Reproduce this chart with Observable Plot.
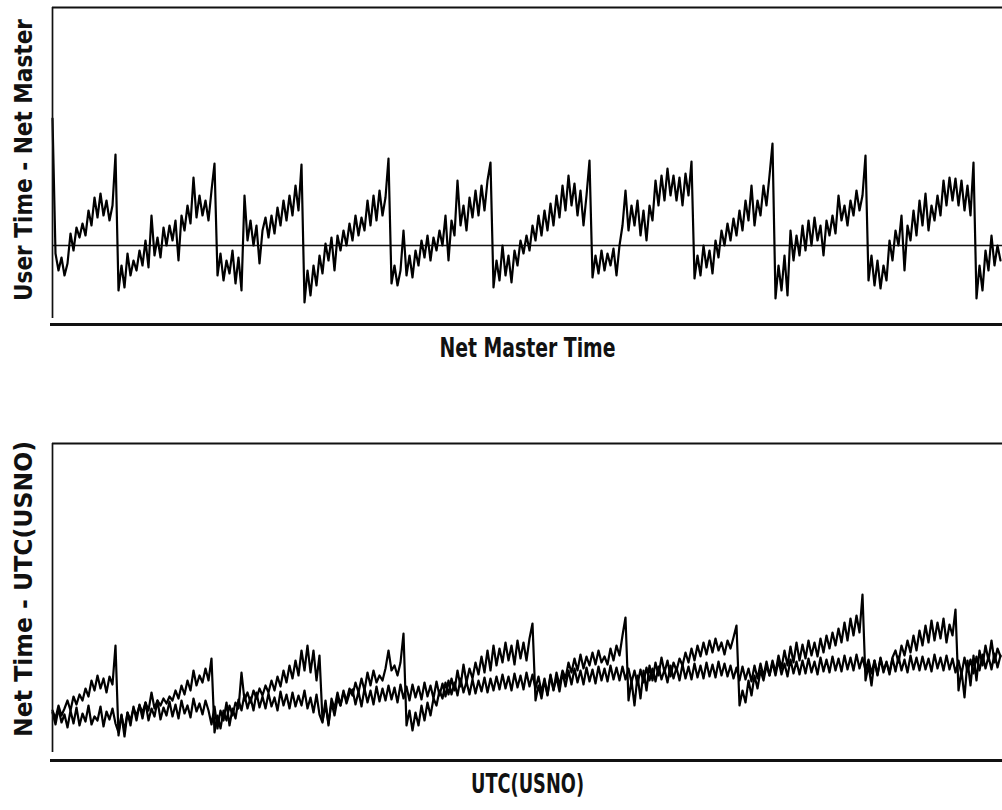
<!DOCTYPE html>
<html><head><meta charset="utf-8">
<script src="https://cdn.jsdelivr.net/npm/d3@7"></script>
<script src="https://cdn.jsdelivr.net/npm/@observablehq/plot@0.6"></script>
<style>
body{margin:0;background:#fff;}
#chart svg{display:block;background:#fff;}
</style></head><body><div id="chart"></div>
<script>
// sampling interval along the time axis (arbitrary units)
const sampleStep = 3;
const xDomain = [0, 950];

// ---- Top panel: User Time - Net Master (arbitrary units, 0 = reference line)
const topLabelX = "Net Master Time";
const topLabelY = "User Time - Net Master";
const topDomain = [-79, 238];
const userMinusNet = [
  127, -8, -25, -12, -30, -18, 12, -5, 18, 8,
  22, 10, 35, 20, 48, 28, 52, 30, 45, 25,
  40, 91, -45, -20, -42, -8, -30, -15, -25, -5,
  -20, 5, -22, 30, -10, 8, -12, 18, 0, 20,
  5, 25, -15, 30, 15, 40, 22, 68, 28, 50,
  30, 45, 25, 55, 82, -30, -8, -35, -15, -28,
  -5, -38, -12, -45, 50, 5, 25, 0, 20, -18,
  15, 28, 8, 30, 12, 38, 20, 45, 25, 50,
  30, 60, 35, 81, -57, -25, -50, -20, -40, -10,
  -28, 2, -15, 8, -25, 10, -5, 15, 0, 22,
  5, 30, 10, 28, 15, 45, 20, 50, 25, 55,
  30, 48, 87, -38, -20, -40, -25, 15, -30, -10,
  -32, -5, -20, 5, -12, 10, -15, 8, -5, 15,
  0, 30, -15, 25, 10, 65, 20, 40, 15, 48,
  28, 55, 30, 60, 35, 65, 83, -42, -15, -35,
  0, -30, -10, -37, -5, -20, 5, -8, 10, -5,
  20, 5, 30, 10, 35, 15, 42, 20, 50, 28,
  60, 35, 70, 40, 62, 30, 55, 20, 50, 85,
  -32, -10, -28, -5, -25, -8, -20, -3, -30, 0,
  20, 55, 15, 40, 20, 45, 10, 35, 5, 40,
  25, 65, 40, 70, 45, 77, 50, 70, 45, 68,
  40, 72, 50, 84, -33, -10, -30, 0, -22, -5,
  -28, 5, -12, 15, 0, 22, 5, 27, 10, 35,
  15, 45, 25, 60, 20, 45, 30, 60, 40, 70,
  102, -53, -20, -45, -10, -50, 15, -15, 10, -10,
  20, -5, 25, 0, 28, 5, 20, -10, 25, 10,
  30, 12, 50, 25, 40, 20, 45, 30, 55, 35,
  50, 90, -35, -10, -40, -15, -43, -20, -35, 5,
  -15, 15, 0, 30, -25, 20, 5, 35, 10, 45,
  20, 52, 15, 40, 25, 50, 30, 65, 40, 68,
  45, 67, 40, 65, 35, 60, 30, 83, -53, -20,
  -45, -5, -25, 10, -20, 0, -15
];

// ---- Bottom panel: Net Time - UTC(USNO) and User Time - UTC(USNO)
const bottomLabelX = "UTC(USNO)";
const bottomLabelY = "Net Time - UTC(USNO)";
const bottomDomain = [0, 317];
const netMinusUtc = [
  48, 36, 52, 38, 46, 33, 50, 37, 53, 35,
  47, 39, 55, 36, 44, 40, 54, 34, 49, 41,
  52, 37, 28, 46, 24, 48, 35, 54, 40, 56,
  42, 58, 40, 52, 44, 60, 41, 53, 45, 59,
  44, 56, 42, 60, 47, 55, 43, 62, 49, 57,
  46, 60, 50, 36, 54, 32, 50, 40, 58, 35,
  52, 42, 61, 50, 66, 52, 63, 50, 68, 53,
  64, 52, 67, 54, 63, 50, 69, 55, 66, 52,
  68, 54, 65, 55, 70, 52, 63, 48, 66, 46,
  38, 60, 35, 62, 52, 68, 55, 70, 57, 67,
  71, 56, 69, 54, 72, 58, 70, 56, 74, 59,
  72, 60, 75, 61, 73, 58, 76, 62, 74, 60,
  76, 63, 74, 61, 78, 64, 75, 62, 79, 65,
  77, 64, 80, 66, 78, 65, 82, 68, 79, 66,
  81, 67, 80, 69, 83, 68, 82, 70, 84, 71,
  86, 72, 84, 70, 87, 73, 85, 71, 88, 74,
  86, 72, 84, 68, 82, 66, 86, 71, 83, 69,
  88, 74, 90, 76, 92, 78, 90, 76, 93, 79,
  91, 77, 94, 80, 92, 79, 95, 81, 93, 80,
  94, 81, 92, 78, 90, 76, 91, 78, 93, 80,
  92, 79, 94, 81, 91, 78, 95, 82, 93, 80,
  96, 82, 94, 81, 97, 83, 95, 82, 98, 84,
  96, 83, 99, 85, 97, 84, 95, 82, 93, 80,
  94, 81, 92, 79, 95, 82, 97, 84, 99, 85,
  98, 85, 100, 86, 97, 84, 101, 87, 99, 86,
  100, 87, 102, 88, 99, 86, 103, 89, 101, 88,
  104, 90, 102, 89, 105, 91, 103, 90, 106, 92,
  103, 90, 101, 87, 100, 86, 102, 88, 99, 86,
  102, 89, 104, 90, 101, 88, 105, 91, 103, 90,
  104, 91, 102, 89, 106, 92, 103, 90, 105, 91,
  102, 88, 100, 86, 103, 89, 101, 87, 104, 90,
  106, 92, 104, 91, 107, 93, 105
];
const userMinusUtc = [
  50, 42, 55, 45, 52, 60, 50, 64, 56, 66,
  60, 72, 64, 80, 70, 85, 72, 82, 68, 84,
  76, 115, 25, 45, 30, 48, 40, 52, 45, 55,
  48, 58, 50, 68, 52, 60, 55, 62, 57, 64,
  60, 70, 62, 75, 66, 80, 70, 90, 75, 85,
  78, 92, 80, 102, 28, 45, 32, 50, 40, 55,
  45, 58, 52, 88, 60, 68, 58, 70, 62, 72,
  65, 75, 68, 80, 70, 84, 74, 90, 78, 95,
  82, 100, 85, 110, 90, 115, 88, 110, 80, 105,
  40, 55, 37, 58, 45, 62, 55, 68, 60, 72,
  65, 78, 68, 82, 70, 88, 75, 90, 78, 85,
  80, 92, 110, 90, 95, 85, 98, 127, 35, 50,
  30, 48, 35, 55, 40, 58, 45, 62, 55, 70,
  62, 78, 66, 82, 70, 90, 74, 96, 78, 92,
  82, 98, 86, 104, 88, 110, 90, 115, 95, 112,
  98, 118, 100, 115, 96, 120, 102, 118, 100, 122,
  137, 60, 75, 62, 80, 65, 85, 70, 88, 75,
  90, 82, 98, 88, 102, 90, 106, 92, 104, 95,
  108, 96, 110, 98, 104, 96, 112, 100, 115, 105,
  125, 143, 60, 80, 55, 85, 62, 90, 70, 95,
  80, 98, 85, 103, 88, 100, 84, 98, 90, 102,
  95, 108, 98, 112, 100, 115, 104, 118, 106, 120,
  108, 122, 110, 118, 106, 120, 112, 123, 135, 55,
  70, 58, 80, 65, 85, 72, 90, 80, 95, 85,
  100, 88, 105, 92, 110, 95, 114, 98, 118, 100,
  116, 102, 120, 105, 118, 104, 122, 108, 125, 112,
  128, 115, 132, 118, 138, 120, 142, 125, 145, 128,
  166, 80, 95, 75, 100, 85, 103, 90, 98, 88,
  103, 110, 98, 115, 105, 120, 108, 125, 110, 130,
  115, 135, 118, 140, 120, 138, 122, 142, 118, 136,
  125, 151, 70, 90, 63, 100, 75, 105, 80, 110,
  95, 115, 100, 120, 98, 112, 104
];

const toSeries = (arr) => arr.map((v, i) => ({t: i * sampleStep, v}));

const font = "'Liberation Sans Narrow', 'DejaVu Sans Condensed', 'Roboto Condensed', sans-serif";
const labelStyle = {fontFamily: font, fontWeight: "bold", fill: "#111", textAnchor: "middle"};
// rendered widths of the axis titles, in pixels (the reference uses a condensed face)
const labelWidths = new Map([
  [topLabelX, 176], [topLabelY, 282], [bottomLabelX, 113], [bottomLabelY, 296]
]);

function panel({height, marginTop, marginBottom, yDomain, leftBottom, series, labelX, labelY, zeroLine, yShift}) {
  const marks = [];
  if (zeroLine) marks.push(Plot.ruleY([0], {stroke: "#111", strokeWidth: 1.5}));
  for (const s of series) marks.push(Plot.line(toSeries(s), {x: "t", y: "v", stroke: "#000", strokeWidth: 2.2}));
  marks.push(
    Plot.ruleY([yDomain[1]], {x1: xDomain[0], x2: xDomain[1], stroke: "#111", strokeWidth: 2.2}),
    Plot.ruleY([yDomain[0]], {x1: xDomain[0] - 2, x2: xDomain[1], stroke: "#111", strokeWidth: 2.8}),
    Plot.ruleX([xDomain[0]], {y1: leftBottom, y2: yDomain[1], stroke: "#111", strokeWidth: 1.7}),
    Plot.text([labelX], {text: d => d, frameAnchor: "bottom", dy: 32, fontSize: 27, ...labelStyle}),
    Plot.text([labelY], {text: d => d, frameAnchor: "left", rotate: -90, dx: -29, dy: yShift, fontSize: 25, ...labelStyle})
  );
  const svg = Plot.plot({
    width: 1002, height, marginLeft: 52, marginRight: 0, marginTop, marginBottom,
    x: {domain: xDomain, axis: null},
    y: {domain: yDomain, axis: null},
    marks
  });
  svg.querySelectorAll("text").forEach((t) => {
    const w = labelWidths.get(t.textContent);
    if (w) { t.setAttribute("textLength", w); t.setAttribute("lengthAdjust", "spacingAndGlyphs"); }
  });
  return svg;
}

const chart = document.getElementById("chart");
chart.append(panel({
  height: 370, marginTop: 7, marginBottom: 46, yDomain: topDomain, leftBottom: -73,
  series: [userMinusNet], labelX: topLabelX, labelY: topLabelY, zeroLine: true, yShift: -6
}));
chart.append(panel({
  height: 440, marginTop: 73, marginBottom: 50, yDomain: bottomDomain, leftBottom: 8,
  series: [netMinusUtc, userMinusUtc], labelX: bottomLabelX, labelY: bottomLabelY, zeroLine: false, yShift: -13
}));
</script></body></html>
